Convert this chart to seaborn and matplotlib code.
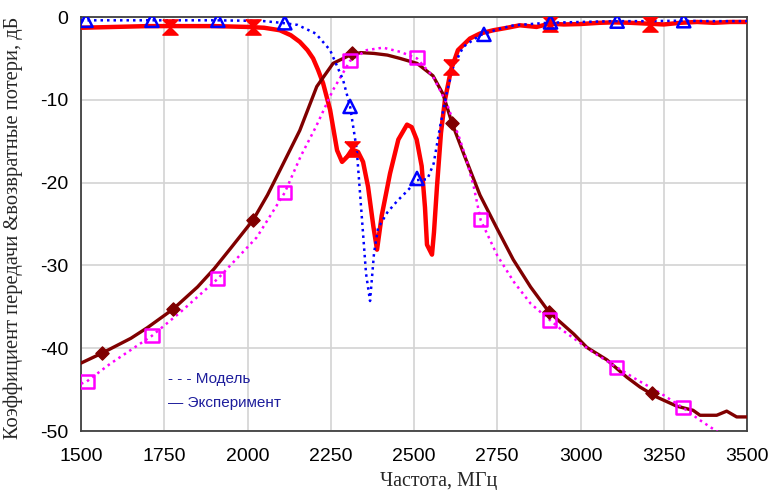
import numpy as np
import pandas as pd
import matplotlib
matplotlib.use("Agg")
import matplotlib.pyplot as plt
from matplotlib.path import Path
import seaborn as sns

# ---------------- data ----------------
# Model S21 (blue dotted)
model_s21_f = [1500, 1600, 1700, 1800, 1900, 2000, 2050, 2100, 2150, 2205, 2248, 2287, 2308,
               2328, 2343, 2356, 2368, 2380, 2392, 2420, 2450, 2480, 2509, 2540, 2559, 2578,
               2598, 2618, 2648, 2698, 2750, 2800, 2900, 3000, 3100, 3200, 3300, 3400, 3500]
model_s21_db = [-0.4, -0.4, -0.4, -0.4, -0.4, -0.45, -0.5, -0.7, -0.95, -2.0, -4.0, -7.6, -10.8,
                -16.0, -24.0, -31.0, -34.3, -28.5, -25.5, -23.6, -22.2, -21.0, -19.7, -19.6, -17.7, -13.3,
                -9.2, -6.0, -3.6, -2.2, -1.5, -1.0, -0.7, -0.6, -0.5, -0.5, -0.45, -0.5, -0.5]
model_s21_mk_f = [1515, 1713, 1911, 2112, 2308, 2509, 2710, 2910, 3110, 3310]
model_s21_mk_db = [-0.4, -0.4, -0.4, -0.7, -10.8, -19.5, -2.1, -0.6, -0.5, -0.45]

# Experiment S21 (red solid)
exp_s21_f = [1500, 1600, 1700, 1800, 1900, 2000, 2050, 2097, 2130, 2157, 2180, 2197, 2212, 2227,
             2248, 2269, 2284, 2299, 2314, 2332, 2347, 2362, 2378, 2389, 2403, 2428, 2453,
             2479, 2493, 2508, 2523, 2533, 2539, 2554, 2560, 2569, 2581, 2593, 2611, 2632,
             2668, 2698, 2738, 2780, 2818, 2868, 2908, 2950, 2998, 3058, 3100, 3150, 3200,
             3250, 3300, 3350, 3400, 3450, 3500]
exp_s21_db = [-1.3, -1.2, -1.1, -1.1, -1.1, -1.2, -1.3, -1.6, -2.2, -3.0, -4.0, -5.0, -6.4, -8.0,
              -11.2, -16.1, -17.5, -16.9, -16.0, -16.3, -17.5, -20.5, -25.3, -28.1, -24.0, -18.9, -14.8,
              -13.0, -13.3, -14.8, -18.0, -23.0, -27.5, -28.7, -26.0, -20.5, -14.0, -10.0, -6.4, -4.0,
              -2.6, -2.0, -1.6, -1.3, -1.0, -1.2, -0.8, -0.9, -0.85, -0.7, -0.65, -0.7, -0.8,
              -0.9, -0.7, -0.6, -0.7, -0.6, -0.6]
exp_s21_mk_f = [1768, 2017, 2314, 2612, 2908, 3210]
exp_s21_mk_db = [-1.2, -1.2, -16.0, -6.0, -0.8, -0.8]

# Experiment S11 (maroon solid)
exp_s11_f = [1500, 1563, 1650, 1700, 1776, 1850, 1900, 1950, 2017, 2060, 2100, 2157, 2208,
             2257, 2308, 2340, 2380, 2420, 2458, 2509, 2557, 2587, 2614, 2650, 2698, 2750, 2798,
             2850, 2905, 2938, 2980, 3019, 3079, 3139, 3179, 3229, 3289, 3338, 3359, 3409,
             3439, 3469, 3500]
exp_s11_db = [-41.8, -40.6, -38.8, -37.5, -35.3, -32.6, -30.4, -27.9, -24.5, -21.5, -18.3, -13.7, -8.4,
              -5.6, -4.6, -4.3, -4.4, -4.6, -5.0, -5.6, -7.1, -9.3, -12.8, -16.6, -21.5, -25.6, -29.3,
              -32.6, -35.6, -36.8, -38.3, -39.9, -41.4, -43.5, -44.7, -45.9, -47.0, -47.5, -48.1, -48.1,
              -47.6, -48.3, -48.3]
exp_s11_mk_f = [1563, 1776, 2017, 2314, 2614, 2905, 3215]
exp_s11_mk_db = [-40.6, -35.3, -24.5, -4.4, -12.8, -35.6, -45.4]

# Model S11 (magenta dotted)
model_s11_f = [1500, 1518, 1587, 1713, 1797, 1911, 2028, 2112, 2160, 2205, 2257, 2308,
               2358, 2407, 2458, 2509, 2557, 2598, 2638, 2658, 2680, 2700, 2750, 2800, 2850,
               2908, 2938, 3038, 3109, 3169, 3239, 3308, 3359, 3415]
model_s11_db = [-44.3, -44.0, -41.9, -38.5, -35.7, -31.6, -26.6, -21.2, -16.8, -13.3, -8.8, -5.3,
                -4.0, -3.7, -4.2, -5.0, -7.2, -10.4, -14.8, -17.3, -20.6, -24.5, -28.8, -32.0, -34.6,
                -36.6, -37.6, -40.5, -42.3, -43.8, -45.4, -47.2, -48.7, -50.2]
model_s11_mk_f = [1518, 1713, 1911, 2112, 2308, 2509, 2700, 2908, 3109, 3308]
model_s11_mk_db = [-44.0, -38.5, -31.6, -21.2, -5.3, -4.9, -24.5, -36.6, -42.3, -47.2]

x_ticks = [1500, 1750, 2000, 2250, 2500, 2750, 3000, 3250, 3500]
y_ticks = [0, -10, -20, -30, -40, -50]
legend_labels = ["- - - Модель", "— Эксперимент"]
x_label = "Частота, МГц"
y_label = "Коэффициент передачи &возвратные потери, дБ"

# ---------------- plot ----------------
sns.set_theme(style="whitegrid")
plt.rcParams["font.family"] = ["Liberation Sans", "DejaVu Sans"]
plt.rcParams["axes.unicode_minus"] = False

fig = plt.figure(figsize=(7.69, 4.90), dpi=100)
ax = fig.add_axes([81 / 769, 1 - 431 / 490, 666 / 769, 414 / 490])

RED = "#ff0000"
MAROON = "#800000"
BLUE = "#0000ff"
MAGENTA = "#ff00ff"

hourglass = Path([(-1, 1), (1, 1), (0, 0), (1, -1), (-1, -1), (0, 0), (-1, 1)])

df = pd.DataFrame({"f": exp_s21_f, "db": exp_s21_db})
sns.lineplot(data=df, x="f", y="db", ax=ax, color=RED, lw=3.2, sort=False,
             estimator=None, zorder=3)
df = pd.DataFrame({"f": exp_s11_f, "db": exp_s11_db})
sns.lineplot(data=df, x="f", y="db", ax=ax, color=MAROON, lw=2.4, sort=False,
             estimator=None, zorder=3)
df = pd.DataFrame({"f": model_s11_f, "db": model_s11_db})
sns.lineplot(data=df, x="f", y="db", ax=ax, color=MAGENTA, lw=1.8, sort=False,
             estimator=None, zorder=4, linestyle=(0, (1, 1.6)))
df = pd.DataFrame({"f": model_s21_f, "db": model_s21_db})
sns.lineplot(data=df, x="f", y="db", ax=ax, color=BLUE, lw=1.8, sort=False,
             estimator=None, zorder=4, linestyle=(0, (1, 1.6)))

sns.scatterplot(x=exp_s21_mk_f, y=exp_s21_mk_db, ax=ax, marker=hourglass, s=120,
                color=RED, edgecolor=RED, linewidth=1, zorder=5)
sns.scatterplot(x=exp_s11_mk_f, y=exp_s11_mk_db, ax=ax, marker="D", s=45,
                color=MAROON, edgecolor=MAROON, linewidth=1, zorder=5)
sns.scatterplot(x=model_s11_mk_f, y=model_s11_mk_db, ax=ax, marker="s", s=90,
                facecolor="none", edgecolor=MAGENTA, linewidth=1.8, zorder=6)
sns.scatterplot(x=model_s21_mk_f, y=model_s21_mk_db, ax=ax, marker="^", s=90,
                facecolor="none", edgecolor=BLUE, linewidth=1.8, zorder=6)

ax.set_xlim(1500, 3500)
ax.set_ylim(-50, 0)
ax.set_xticks(x_ticks)
ax.set_yticks(y_ticks)
ax.tick_params(axis="both", length=0, labelsize=14, colors="#000000")
ax.tick_params(axis="x", pad=12)
ax.tick_params(axis="y", pad=9)
ax.grid(True, color="#d3d3d3", lw=1.2)
ax.set_facecolor("white")
for sp in ax.spines.values():
    sp.set_visible(True)
    sp.set_color("#404040")
    sp.set_linewidth(1.3)

ax.set_xlabel(x_label, family=["Liberation Serif", "DejaVu Serif"], fontsize=14.5)
ax.set_ylabel(y_label, family=["Liberation Serif", "DejaVu Serif"], fontsize=14.8)
ax.xaxis.set_label_coords(0.537, -0.1)
ax.yaxis.set_label_coords(-0.087, 0.49)

NAVY = "#1e1e9c"
ax.text((168 - 81) / 666, (431 - 379) / 414, legend_labels[0], transform=ax.transAxes,
        color=NAVY, fontsize=11, va="center", ha="left", zorder=7)
ax.text((168 - 81) / 666, (431 - 403) / 414, legend_labels[1], transform=ax.transAxes,
        color=NAVY, fontsize=11, va="center", ha="left", zorder=7)

fig.savefig("out.png", dpi=100, facecolor="white")
